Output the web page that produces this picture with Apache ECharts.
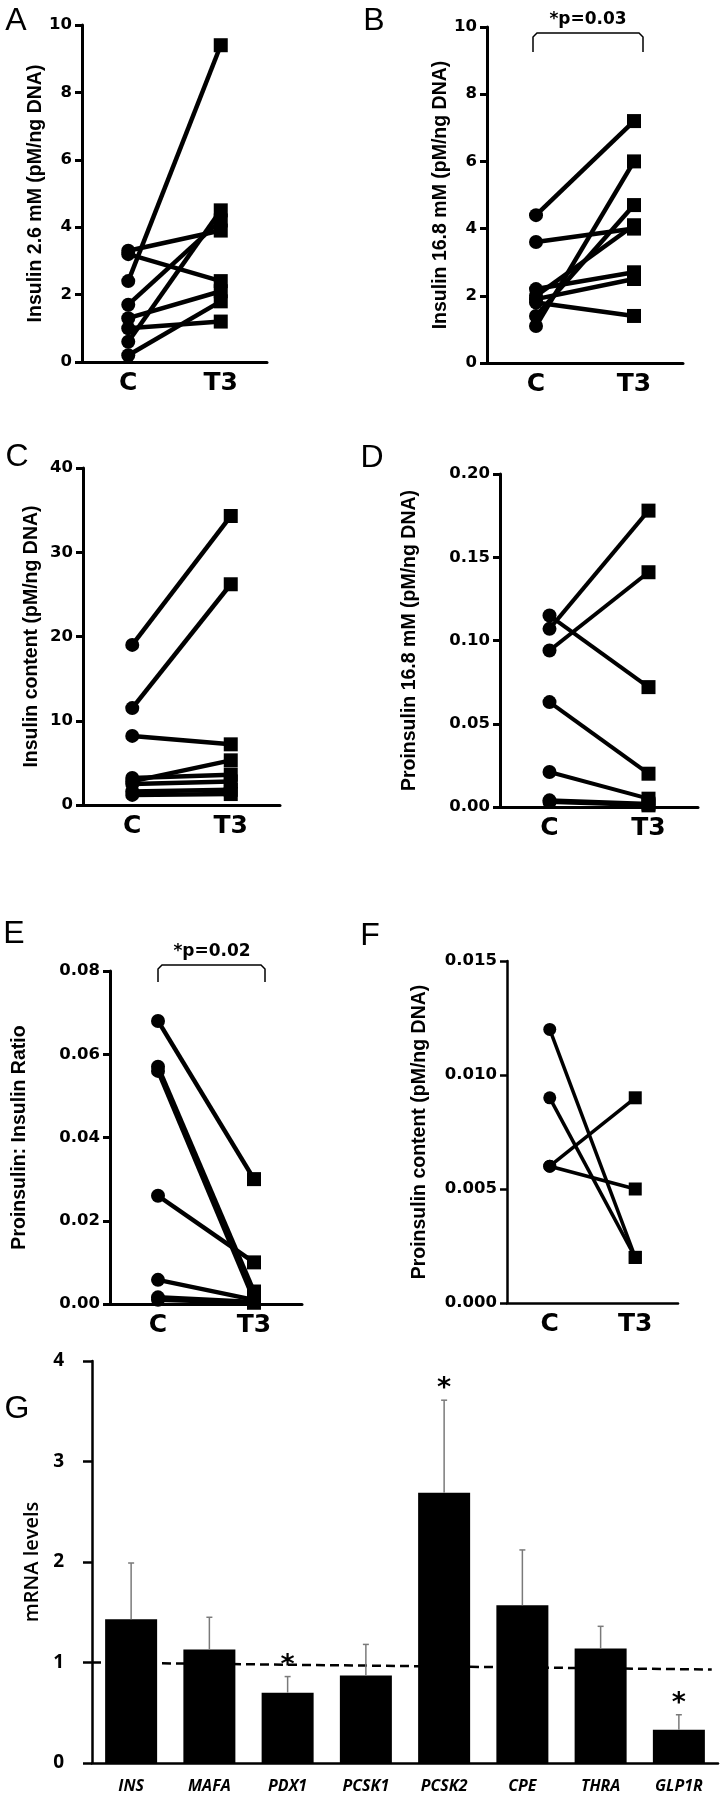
<!DOCTYPE html>
<html>
<head>
<meta charset="utf-8">
<script src="https://cdn.jsdelivr.net/npm/echarts@6/dist/echarts.min.js"></script>
<style>
html, body { margin: 0; padding: 0; background: #fff; }
#main { width: 720px; height: 1795px; }
</style>
</head>
<body>
<div id="main"></div>
<script>
// paired islet preparations: same index = same donor, C (control) vs T3
var groups = ['C', 'T3'];

var insLowC = [2.4, 3.3, 3.2, 1.7, 0.6, 1.3, 1.0, 0.2];
var insLowT3 = [9.4, 3.9, 2.4, 4.2, 4.5, 2.1, 1.2, 1.8];

var insHighC = [4.4, 3.6, 1.1, 1.4, 2.0, 2.2, 1.9, 1.8];
var insHighT3 = [7.2, 4.0, 6.0, 4.7, 4.1, 2.7, 2.5, 1.4];

var contentC = [19.0, 11.5, 8.2, 2.8, 3.2, 2.5, 1.6, 1.2];
var contentT3 = [34.3, 26.2, 7.2, 5.3, 3.6, 2.8, 1.8, 1.3];

var proInsC = [0.107, 0.094, 0.115, 0.063, 0.021, 0.004, 0.003];
var proInsT3 = [0.178, 0.141, 0.072, 0.020, 0.005, 0.002, 0.001];

var ratioC = [0.068, 0.057, 0.056, 0.026, 0.0058, 0.0016, 0.001];
var ratioT3 = [0.030, 0.003, 0.001, 0.010, 0.001, 0.0005, 0.0003];

var proContentC = [0.012, 0.009, 0.006, 0.006];
var proContentT3 = [0.002, 0.002, 0.009, 0.005];

// panel G
var genes = ['INS', 'MAFA', 'PDX1', 'PCSK1', 'PCSK2', 'CPE', 'THRA', 'GLP1R'];
var mrnaMean = [1.43, 1.13, 0.70, 0.87, 2.69, 1.57, 1.14, 0.33];
var mrnaUpper = [1.99, 1.45, 0.86, 1.18, 3.61, 2.12, 1.36, 0.48];
var mrnaSig = [0, 0, 1, 0, 1, 0, 0, 1];
var refLine = [1.0, 0.93]; // dashed control level, left end / right end

var tickFont = { color: '#000', fontFamily: 'DejaVu Sans', fontWeight: 'bold', fontSize: 16.5 };

function catAxis(gi, lw) {
    return {
        type: 'category', gridIndex: gi, data: groups, boundaryGap: true,
        axisLine: { lineStyle: { color: '#000', width: lw } },
        axisTick: { alignWithLabel: true, length: 7, lineStyle: { color: '#000', width: lw } },
        axisLabel: { color: '#000', fontFamily: 'DejaVu Sans', fontWeight: 'bold', fontSize: 25, margin: 9 }
    };
}

function valAxis(gi, max, step, dec, name, gap, lw) {
    return {
        type: 'value', gridIndex: gi, min: 0, max: max, interval: step,
        splitLine: { show: false },
        axisLine: { show: true, lineStyle: { color: '#000', width: lw } },
        axisTick: { show: true, length: 7, lineStyle: { color: '#000', width: lw } },
        axisLabel: Object.assign({ margin: 10, formatter: function (v) { return v.toFixed(dec); } }, tickFont),
        name: name, nameLocation: 'middle', nameGap: gap,
        nameTextStyle: { color: '#000', fontFamily: 'Liberation Sans', fontWeight: 'bold', fontSize: 19.5 }
    };
}

// one line series per donor: circle at C, square at T3
function pairSeries(gi, cVals, tVals, lw, size) {
    return cVals.map(function (c, i) {
        return {
            type: 'line', xAxisIndex: gi, yAxisIndex: gi,
            data: [c, tVals[i]],
            symbol: function (v, p) { return p.dataIndex === 0 ? 'circle' : 'rect'; },
            symbolSize: size,
            lineStyle: { color: '#000', width: lw },
            itemStyle: { color: '#000' },
            z: 3
        };
    });
}

var chart = echarts.init(document.getElementById('main'));

var series = [].concat(
    pairSeries(0, insLowC, insLowT3, 4.5, 14),
    pairSeries(1, insHighC, insHighT3, 4.5, 14),
    pairSeries(2, contentC, contentT3, 4.5, 14),
    pairSeries(3, proInsC, proInsT3, 4, 14),
    pairSeries(4, ratioC, ratioT3, 4.5, 14),
    pairSeries(5, proContentC, proContentT3, 3.5, 13)
);

series.push({
    type: 'line', xAxisIndex: 7, yAxisIndex: 6,
    data: [[0, refLine[0]], [0.99, refLine[1]]],
    symbol: 'none', z: 1,
    lineStyle: { color: '#000', width: 2.5, type: [9, 5] }
});
series.push({
    type: 'bar', xAxisIndex: 6, yAxisIndex: 6,
    data: mrnaMean, barWidth: 52, z: 2,
    itemStyle: { color: '#000' }
});
series.push({
    type: 'custom', xAxisIndex: 6, yAxisIndex: 6, z: 4,
    data: genes.map(function (g, i) { return [i, mrnaMean[i], mrnaUpper[i], mrnaSig[i]]; }),
    renderItem: function (params, api) {
        var i = api.value(0);
        var p0 = api.coord([i, api.value(1)]);
        var p1 = api.coord([i, api.value(2)]);
        var kids = [
            { type: 'line', shape: { x1: p0[0], y1: p0[1], x2: p1[0], y2: p1[1] }, style: { stroke: '#7a7a7a', lineWidth: 1.5 } },
            { type: 'line', shape: { x1: p1[0] - 3, y1: p1[1], x2: p1[0] + 3, y2: p1[1] }, style: { stroke: '#7a7a7a', lineWidth: 1.5 } }
        ];
        if (api.value(3)) {
            kids.push({ type: 'text', x: p1[0], y: p1[1] - 11,
                style: { text: '*', fill: '#000', font: 'bold 27px "DejaVu Sans"', align: 'center', verticalAlign: 'middle' } });
        }
        return { type: 'group', children: kids };
    }
});

function letter(t, x, y) {
    return { type: 'text', x: x, y: y,
        style: { text: t, fill: '#000', font: '32px "Liberation Sans"', align: 'center', verticalAlign: 'middle' } };
}
function bracket(x1, x2, top, bottom) {
    return { type: 'polyline',
        shape: { points: [[x1, bottom], [x1, top + 4], [x1 + 4, top], [x2 - 4, top], [x2, top + 4], [x2, bottom]] },
        style: { stroke: '#000', lineWidth: 1.5, fill: null } };
}
function pText(t, x, y) {
    return { type: 'text', x: x, y: y,
        style: { text: t, fill: '#000', font: 'bold 17px "DejaVu Sans"', align: 'center', verticalAlign: 'middle' } };
}

var option = {
    animation: false,
    backgroundColor: '#fff',
    grid: [
        { left: 82, top: 25, width: 185, height: 337 },
        { left: 487, top: 27, width: 196, height: 336 },
        { left: 83, top: 468, width: 197, height: 337 },
        { left: 500, top: 474, width: 198, height: 333 },
        { left: 110, top: 971, width: 192, height: 333 },
        { left: 507, top: 961, width: 171, height: 342 },
        { left: 92, top: 1361, width: 626, height: 402 }
    ],
    xAxis: [
        catAxis(0, 3), catAxis(1, 3), catAxis(2, 3), catAxis(3, 3), catAxis(4, 3), catAxis(5, 2.5),
        {
            type: 'category', gridIndex: 6, data: genes,
            axisLine: { lineStyle: { color: '#000', width: 2.5 } },
            axisTick: { show: false },
            axisLabel: { color: '#000', fontFamily: 'Open Sans', fontWeight: 'bold', fontStyle: 'italic', fontSize: 16, margin: 15 }
        },
        { type: 'value', gridIndex: 6, min: 0, max: 1, show: false }
    ],
    yAxis: [
        valAxis(0, 10, 2, 0, 'Insulin 2.6 mM (pM/ng DNA)', 25, 3),
        valAxis(1, 10, 2, 0, 'Insulin 16.8 mM (pM/ng DNA)', 35, 3),
        valAxis(2, 40, 10, 0, 'Insulin content (pM/ng DNA)', 41, 3),
        valAxis(3, 0.2, 0.05, 2, 'Proinsulin 16.8 mM (pM/ng DNA)', 80, 3),
        valAxis(4, 0.08, 0.02, 2, 'Proinsulin: Insulin Ratio', 80, 3),
        valAxis(5, 0.015, 0.005, 3, 'Proinsulin content (pM/ng DNA)', 77, 2.5),
        {
            type: 'value', gridIndex: 6, min: 0, max: 4, interval: 1,
            splitLine: { show: false },
            axisLine: { show: true, lineStyle: { color: '#000', width: 2.5 } },
            axisTick: { show: true, length: 9, lineStyle: { color: '#000', width: 2.5 } },
            axisLabel: { color: '#000', fontFamily: 'Open Sans', fontWeight: 'bold', fontSize: 19, margin: 28 },
            name: 'mRNA levels', nameLocation: 'middle', nameGap: 47,
            nameTextStyle: { color: '#000', fontFamily: 'Open Sans', fontWeight: 600, fontSize: 20 }
        }
    ],
    series: series,
    graphic: [
        letter('A', 16, 21), letter('B', 374, 21), letter('C', 17, 457), letter('D', 372, 458),
        letter('E', 14, 934), letter('F', 370, 936), letter('G', 17, 1409),
        bracket(533, 643, 33, 52), pText('*p=0.03', 588, 20),
        bracket(158, 265, 965, 982), pText('*p=0.02', 212, 952)
    ]
};

chart.setOption(option);
</script>
</body>
</html>
